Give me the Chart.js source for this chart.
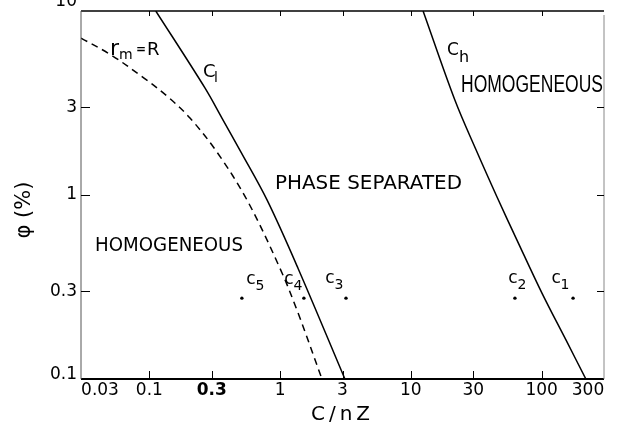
<!DOCTYPE html>
<html>
<head>
<meta charset="utf-8">
<script src="https://cdn.jsdelivr.net/npm/chart.js@4"></script>
<style>
  html, body { margin: 0; padding: 0; background: #fff; }
  canvas { display: block; }
</style>
</head>
<body>
<canvas id="grafico" width="619" height="428"></canvas>
<script>
// curva C_l (limite de separacion de fases, lado pobre)
const clX = [0.112, 0.266, 0.359, 0.502, 0.794, 1.37, 3.13];
const clY = [10, 3.82, 2.62, 1.71, 0.94, 0.40, 0.1];

// curva r_m = R (discontinua)
const rmX = [0.03, 0.0509, 0.0910, 0.139, 0.2045, 0.329, 0.558, 0.997, 1.37, 2.09];
const rmY = [7.13, 5.77, 4.32, 3.41, 2.62, 1.71, 0.94, 0.40, 0.229, 0.1];

// curva C_h (lado rico)
const chX = [12.4, 21.7, 31.5, 45.6, 64.8, 100.6, 153.5, 218];
const chY = [10, 3.28, 1.76, 0.975, 0.569, 0.293, 0.163, 0.1];

// muestras c1..c5
const muestraNombres = ['5', '4', '3', '2', '1'];
const muestraX = [0.51, 1.52, 3.19, 62.5, 174];
const muestraY = [0.275, 0.275, 0.275, 0.275, 0.275];

// ticks
const ticksX = [0.1, 0.3, 1, 3, 10, 30, 100];
const etiquetasX = ['0.03', '0.1', '0.3', '1', '3', '10', '30', '100', '300'];
const valoresEtiquetasX = [0.03, 0.1, 0.3, 1, 3, 10, 30, 100, 300];
const ticksY = [0.3, 1, 3];
const etiquetasY = ['0.1', '0.3', '1', '3', '10'];
const valoresEtiquetasY = [0.1, 0.3, 1, 3, 10];

const puntos = (xs, ys) => xs.map((x, i) => ({ x: x, y: ys[i] }));

const FUENTE = '"DejaVu Sans", sans-serif';

function textoAjustado(ctx, texto, x, y, ancho) {
    const m = ctx.measureText(texto).width;
    ctx.save();
    ctx.translate(x, y);
    ctx.scale(ancho / m, 1);
    ctx.fillText(texto, 0, 0);
    ctx.restore();
}

const marcoYTextos = {
    id: 'marcoYTextos',
    afterDraw(chart) {
        const ctx = chart.ctx;
        const a = chart.chartArea;
        const sx = chart.scales.x;
        const sy = chart.scales.y;
        ctx.save();
        ctx.strokeStyle = '#000';
        ctx.fillStyle = '#000';

        // marco
        ctx.lineWidth = 1.5;
        ctx.beginPath(); ctx.moveTo(a.left, a.top); ctx.lineTo(a.right, a.top); ctx.stroke();
        ctx.lineWidth = 2;
        ctx.beginPath(); ctx.moveTo(a.left, a.bottom); ctx.lineTo(a.right, a.bottom); ctx.stroke();
        ctx.lineWidth = 1;
        ctx.strokeStyle = '#555';
        ctx.beginPath(); ctx.moveTo(a.left, a.top); ctx.lineTo(a.left, a.bottom); ctx.stroke();
        ctx.strokeStyle = '#888';
        ctx.beginPath(); ctx.moveTo(a.right, a.top + 4); ctx.lineTo(a.right, a.bottom); ctx.stroke();

        // ticks
        ctx.strokeStyle = '#000';
        ctx.lineWidth = 1;
        ticksX.forEach(v => {
            const p = Math.round(sx.getPixelForValue(v)) + 0.5;
            ctx.beginPath(); ctx.moveTo(p, a.bottom); ctx.lineTo(p, a.bottom - 8); ctx.stroke();
            ctx.beginPath(); ctx.moveTo(p, a.top); ctx.lineTo(p, a.top + 5); ctx.stroke();
        });
        ticksY.forEach(v => {
            const p = Math.round(sy.getPixelForValue(v)) + 0.5;
            ctx.beginPath(); ctx.moveTo(a.left, p); ctx.lineTo(a.left + 9, p); ctx.stroke();
            ctx.beginPath(); ctx.moveTo(a.right, p); ctx.lineTo(a.right - 7, p); ctx.stroke();
        });

        // etiquetas eje x
        ctx.textAlign = 'center';
        ctx.textBaseline = 'middle';
        etiquetasX.forEach((t, i) => {
            let p = sx.getPixelForValue(valoresEtiquetasX[i]);
            if (i === 0) p += 19;
            if (i === etiquetasX.length - 1) p -= 16;
            ctx.font = (t === '0.3' ? 'bold ' : '') + '17px ' + FUENTE;
            ctx.fillText(t, p, a.bottom + 12);
        });

        // etiquetas eje y
        ctx.font = '17px ' + FUENTE;
        ctx.textAlign = 'right';
        etiquetasY.forEach((t, i) => {
            let p = sy.getPixelForValue(valoresEtiquetasY[i]);
            if (i === 0) p -= 4;
            if (i === etiquetasY.length - 1) p -= 9;
            ctx.fillText(t, a.left - 4, p);
        });

        // titulos
        ctx.textAlign = 'center';
        ctx.font = '20px ' + FUENTE;
        ctx.letterSpacing = '4px';
        ctx.fillText('C/nZ', (a.left + a.right) / 2, a.bottom + 36);
        ctx.letterSpacing = '0px';
        ctx.save();
        ctx.translate(25, 210);
        ctx.rotate(-Math.PI / 2);
        ctx.font = '21px ' + FUENTE;
        ctx.fillText('\u03c6 (%)', 0, 0);
        ctx.restore();

        // regiones
        ctx.textAlign = 'left';
        ctx.font = '20px ' + FUENTE;
        textoAjustado(ctx, 'HOMOGENEOUS', 95, 246, 148);
        textoAjustado(ctx, 'PHASE SEPARATED', 275, 184, 187);
        ctx.font = '23px "Liberation Sans", sans-serif';
        textoAjustado(ctx, 'HOMOGENEOUS', 461, 86, 142);

        // nombres de curvas
        ctx.textBaseline = 'alphabetic';
        ctx.font = '22px ' + FUENTE;
        ctx.fillText('r', 110, 55);
        ctx.font = '14px ' + FUENTE;
        ctx.fillText('m', 119, 59);
        ctx.font = 'bold 12px ' + FUENTE;
        ctx.fillText('=', 136, 53);
        ctx.font = '18px ' + FUENTE;
        ctx.fillText('R', 147, 55);

        ctx.font = '18px ' + FUENTE;
        ctx.fillText('C', 203, 77);
        ctx.font = '14px ' + FUENTE;
        ctx.fillText('l', 214, 82);

        ctx.font = '17px ' + FUENTE;
        ctx.fillText('C', 447, 55);
        ctx.font = '16px ' + FUENTE;
        ctx.fillText('h', 459, 62);

        // nombres de muestras
        const desplaz = [[9, -18], [-15, -18], [-16, -19], [-2, -19], [-17, -19]];
        muestraNombres.forEach((n, i) => {
            const px = sx.getPixelForValue(muestraX[i]) + desplaz[i][0];
            const py = sy.getPixelForValue(muestraY[i]) + desplaz[i][1];
            ctx.textAlign = 'center';
            ctx.font = '17px ' + FUENTE;
            ctx.fillText('c', px, py + 4);
            ctx.font = '14px ' + FUENTE;
            ctx.fillText(n, px + 9, py + 10);
        });
        ctx.restore();
    }
};

const ctx = document.getElementById('grafico').getContext('2d');
new Chart(ctx, {
    type: 'scatter',
    data: {
        datasets: [
            {
                label: 'C_l',
                data: puntos(clX, clY),
                showLine: true,
                borderColor: '#000',
                borderWidth: 1.5,
                pointRadius: 0,
                tension: 0.35
            },
            {
                label: 'r_m = R',
                data: puntos(rmX, rmY),
                showLine: true,
                borderColor: '#000',
                borderWidth: 1.5,
                borderDash: [7, 5],
                pointRadius: 0,
                tension: 0.35
            },
            {
                label: 'C_h',
                data: puntos(chX, chY),
                showLine: true,
                borderColor: '#000',
                borderWidth: 1.5,
                pointRadius: 0,
                tension: 0.35
            },
            {
                label: 'muestras',
                data: puntos(muestraX, muestraY),
                showLine: false,
                pointRadius: 1.7,
                pointBackgroundColor: '#000',
                pointBorderWidth: 0
            }
        ]
    },
    options: {
        responsive: false,
        animation: false,
        layout: { padding: { left: 81, right: 15, top: 11, bottom: 49 } },
        plugins: {
            legend: { display: false },
            tooltip: { enabled: false }
        },
        scales: {
            x: { type: 'logarithmic', min: 0.03, max: 300, display: false },
            y: { type: 'logarithmic', min: 0.1, max: 10, display: false }
        }
    },
    plugins: [marcoYTextos]
});
</script>
</body>
</html>
